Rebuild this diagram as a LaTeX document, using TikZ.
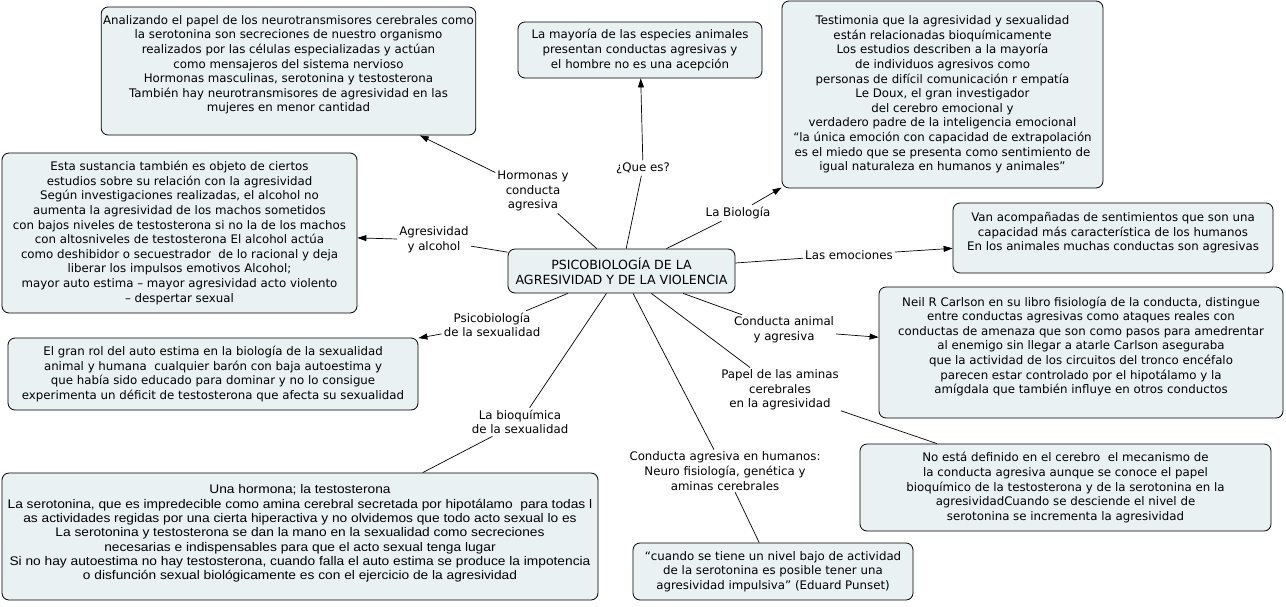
\documentclass[tikz,border=0pt]{standalone}
\usepackage{fontspec}
\setmainfont{DejaVu Sans}
\newfontfamily\narrowsans[FakeStretch=1.1]{Liberation Sans}
\usepackage{xcolor}
\definecolor{cmapfill}{RGB}{234,241,243}
\usetikzlibrary{arrows.meta}
\tikzset{
  conceptbox/.style={
    rectangle, rounded corners=7pt,
    draw=black, fill=cmapfill, line width=0.8pt,
    align=center, inner sep=2pt,
    font=\fontsize{11.8}{14.6}\selectfont
  },
  linkphrase/.style={
    rectangle, align=center, inner sep=2pt,
    font=\fontsize{11.8}{14.6}\selectfont
  },
  link/.style={line width=0.7pt, color=black},
  arrow/.style={line width=0.7pt, color=black, -{Triangle[length=9pt,width=6pt]}},
}

\begin{document}
\begin{tikzpicture}[x=1pt,y=-1pt]

  \fill[white] (0,0) rectangle (1286,606);
  \useasboundingbox (0,0) rectangle (1286,606);

  % --- Concepto central ---
  \node (psico) [conceptbox, minimum width=227pt, minimum height=44pt,
        font=\fontsize{12.6}{15}\selectfont] at (621.5,271)
        {PSICOBIOLOGÍA DE LA\\AGRESIVIDAD Y DE LA VIOLENCIA};

  % --- Frases de enlace ---
  \node (hormonas)  [linkphrase] at (533,191)   {Hormonas y\\conducta\\agresiva};
  \node (quees)     [linkphrase] at (643,168)   {¿Que es?};
  \node (biologia)  [linkphrase] at (738,213)   {La Biología};
  \node (alcohol)   [linkphrase] at (434,240)   {Agresividad\\y alcohol};
  \node (emociones) [linkphrase] at (849,255)   {Las emociones};
  \node (psicosex)  [linkphrase] at (492,325)   {Psicobiología\\de la sexualidad};
  \node (animal)    [linkphrase] at (784,330)   {Conducta animal\\y agresiva};
  \node (aminas)    [linkphrase] at (780,390)   {Papel de las aminas\\cerebrales\\en la agresividad};
  \node (bioquim)   [linkphrase] at (520,422)   {La bioquímica\\de la sexualidad};
  \node (humanos)   [linkphrase] at (725,471)
        {Conducta agresiva en humanos:\\Neuro fisiología, genética y\\aminas cerebrales};

  % --- Conceptos de arriba ---
  \node (neuro) [conceptbox, minimum width=371pt, minimum height=128pt] at (288.5,71)
        {Analizando el papel de los neurotransmisores cerebrales como\\
         la serotonina son secreciones de nuestro organismo\\
         realizados por las células especializadas y actúan\\
         como mensajeros del sistema nervioso\\
         Hormonas masculinas, serotonina y testosterona\\
         También hay neurotransmisores de agresividad en las\\
         mujeres en menor cantidad\\\mbox{}};
  \node (especies) [conceptbox, minimum width=244pt, minimum height=56pt] at (640,50)
        {La mayoría de las especies animales\\
         presentan conductas agresivas y\\
         el hombre no es una acepción};
  \node (testimonia) [conceptbox, minimum width=321pt, minimum height=187pt] at (942.5,94.5)
        {Testimonia que la agresividad y sexualidad\\
         están relacionadas bioquímicamente\\
         Los estudios describen a la mayoría\\
         de individuos agresivos como\\
         personas de difícil comunicación r empatía\\
         Le Doux, el gran investigador\\
         del cerebro emocional y\\
         verdadero padre de la inteligencia emocional\\
         “la única emoción con capacidad de extrapolación\\
         es el miedo que se presenta como sentimiento de\\
         igual naturaleza en humanos y animales”};

  % --- Conceptos laterales ---
  \node (sustancia) [conceptbox, minimum width=355pt, minimum height=160pt] at (179.5,233)
        {Esta sustancia también es objeto de ciertos\\
         estudios sobre su relación con la agresividad\\
         Según investigaciones realizadas, el alcohol no\\
         aumenta la agresividad de los machos sometidos\\
         con bajos niveles de testosterona si no la de los machos\\
         con altosniveles de testosterona El alcohol actúa\\
         como deshibidor o secuestrador\ \ de lo racional y deja\\
         liberar los impulsos emotivos Alcohol;\\
         mayor auto estima – mayor agresividad acto violento\\
         – despertar sexual};
  \node (sentimientos) [conceptbox, minimum width=320pt, minimum height=70pt] at (1113,238)
        {Van acompañadas de sentimientos que son una\\
         capacidad más característica de los humanos\\
         En los animales muchas conductas son agresivas\\[-2pt]\mbox{}};
  \node (carlson) [conceptbox, minimum width=404pt, minimum height=131pt] at (1081,352.5)
        {Neil R Carlson en su libro fisiología de la conducta, distingue\\
         entre conductas agresivas como ataques reales con\\
         conductas de amenaza que son como pasos para amedrentar\\
         al enemigo sin llegar a atarle Carlson aseguraba\\
         que la actividad de los circuitos del tronco encéfalo\\
         parecen estar controlado por el hipotálamo y la\\
         amígdala que también influye en otros conductos\\\mbox{}};
  \node (autoestima) [conceptbox, minimum width=410pt, minimum height=72pt] at (213,374)
        {El gran rol del auto estima en la biología de la sexualidad\\
         animal y humana\ \ cualquier barón con baja autoestima y\\
         que había sido educado para dominar y no lo consigue\\
         experimenta un déficit de testosterona que afecta su sexualidad};

  % --- Conceptos de abajo ---
  \node (mecanismo) [conceptbox, minimum width=411pt, minimum height=87pt] at (1065.5,487.5)
        {No está definido en el cerebro\ \ el mecanismo de\\
         la conducta agresiva aunque se conoce el papel\\
         bioquímico de la testosterona y de la serotonina en la\\
         agresividadCuando se desciende el nivel de\\
         serotonina se incrementa la agresividad};
  \node (testosterona) [conceptbox, minimum width=596pt, minimum height=127pt,
        font=\narrowsans\fontsize{12.5}{14.3}\selectfont] at (300,536.5)
        {Una hormona; la testosterona\\
         La serotonina, que es impredecible como amina cerebral secretada por hipotálamo\ \ para todas l\\
         as actividades regidas por una cierta hiperactiva y no olvidemos que todo acto sexual lo es\\
         La serotonina y testosterona se dan la mano en la sexualidad como secreciones\\
         necesarias e indispensables para que el acto sexual tenga lugar\\
         Si no hay autoestima no hay testosterona, cuando falla el auto estima se produce la impotencia\\
         o disfunción sexual biológicamente es con el ejercicio de la agresividad\\[-6pt]\mbox{}};
  \node (punset) [conceptbox, minimum width=280pt, minimum height=57pt] at (773,571.5)
        {“cuando se tiene un nivel bajo de actividad\\
         de la serotonina es posible tener una\\
         agresividad impulsiva” (Eduard Punset)};

  % --- Del concepto central a las frases ---
  \foreach \phrase in {hormonas, quees, biologia, alcohol, emociones,
                       psicosex, animal, aminas, bioquim, humanos}
    \draw[link] (psico) -- (\phrase);

  % --- De las frases a los conceptos ---
  \draw[arrow] (hormonas)  -- (neuro);
  \draw[arrow] (quees)     -- (especies);
  \draw[arrow] (biologia)  -- (testimonia);
  \draw[arrow] (alcohol)   -- (sustancia);
  \draw[arrow] (emociones) -- (sentimientos);
  \draw[arrow] (animal)    -- (carlson);
  \draw[arrow] (psicosex)  -- (autoestima);
  \draw[link]  (aminas)    -- (mecanismo);
  \draw[link]  (bioquim)   -- (testosterona);
  \draw[link]  (humanos)   -- (punset);

\end{tikzpicture}
\end{document}
